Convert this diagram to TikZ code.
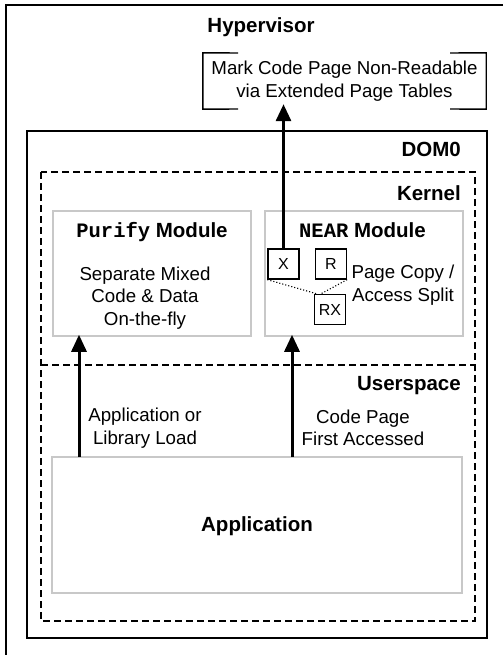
\documentclass[tikz,border=0pt]{standalone}
\usepackage{fontspec}
\setmainfont{Liberation Sans}
\setmonofont{Liberation Mono}
\usetikzlibrary{arrows.meta,calc}
\newcommand\rgf{\fontsize{18.7}{22.5}\selectfont}
\newcommand\bgf{\fontsize{20.5}{24}\selectfont\bfseries}
\newcommand\smf{\fontsize{16}{19}\selectfont}
\definecolor{boxgray}{HTML}{C8C8C8}
\tikzset{
  txt/.style={inner sep=0pt, align=center, font=\rgf},
  lbl/.style={inner sep=0pt, font=\bgf},
  modbox/.style={draw=boxgray, line width=1.5pt, inner sep=0pt},
  pagebox/.style={draw=black, line width=1.3pt, inner sep=0pt, minimum width=31pt, minimum height=30pt, font=\smf},
  zone/.style={draw=black, line width=1.6pt, dash pattern=on 7pt off 4pt},
  solidbox/.style={draw=black, line width=2pt},
  flow/.style={line width=3pt, -{Triangle[length=17pt,width=15pt]}},
  split/.style={line width=1.1pt, dotted}
}
\begin{document}
\begin{tikzpicture}[x=1pt,y=-1pt]
\useasboundingbox (0,0) rectangle (503,655);
% outer (Hypervisor) frame, cropped at right and bottom
\draw[solidbox] (503,5) -- (6,5) -- (6,655);
\node[lbl] (hvlabel) at (261,27) {Hypervisor};
% EPT box
\node[txt, minimum width=283pt, minimum height=56pt] (ept) at (344.5,81)
  {Mark Code Page Non-Readable\\via Extended Page Tables};
\draw[line width=1.4pt] (238,53) -- (ept.north west) -- (ept.south west) -- (238,109);
\draw[line width=1.4pt] (450,53) -- (ept.north east) -- (ept.south east) -- (450,109);
% DOM0
\draw[solidbox] (27,131) rectangle (487,638);
\node[lbl, anchor=east] (dom0) at (461,149) {DOM0};
% Kernel / Userspace zones
\draw[zone] (41,172) rectangle (475,621);
\draw[zone] (41,365) -- (475,365);
\node[lbl, anchor=east] (kernel) at (461,193) {Kernel};
\node[lbl, anchor=east] (user) at (461,386) {Userspace};
% Purify module
\node[modbox, minimum width=198pt, minimum height=125pt] (purify) at (152,273.5) {};
\node[inner sep=0pt] (purifyt) at (152,232) {\fontsize{20.5}{24}\selectfont\ttfamily\bfseries Purify\rmfamily\ Module};
\node[txt] (purifyb) at (145,298) {Separate Mixed\\Code \& Data\\On-the-fly};
% NEAR module
\node[modbox, minimum width=198pt, minimum height=125pt] (near) at (364,273.5) {};
\node[inner sep=0pt] (neart) at (362.5,230) {\fontsize{20.5}{24}\selectfont\ttfamily\bfseries NEAR\rmfamily\ Module};
\node[pagebox] (X) at (283.5,264) {X};
\node[pagebox] (R) at (331,264) {R};
\node[pagebox] (RX) at (330,309.5) {RX};
\draw[split] (X.south west) -- ([xshift=3pt]RX.north west);
\draw[split] (R.south east) -- ([xshift=7pt]RX.north west);
\node[txt] (pcopy) at (403,285) {Page Copy /\\Access Split};
% Application
\node[modbox, minimum width=410pt, minimum height=136pt] (app) at (257,525) {};
\node[lbl] (applbl) at (257,526) {Application};
% arrows
\coordinate (a1) at (79,457);
\coordinate (a2) at (292,457);
\draw[flow, shorten >=-2pt] (a1) -- (a1 |- purify.south);
\draw[flow, shorten >=-2pt] (a2) -- (a2 |- near.south);
\draw[flow, shorten >=-5pt] (X.north) -- (X.north |- ept.south);
\node[txt] (l1) at (145,428) {Application or\\Library Load};
\node[txt] (l2) at (363,428) {Code Page\\First Accessed};
\end{tikzpicture}
\end{document}
